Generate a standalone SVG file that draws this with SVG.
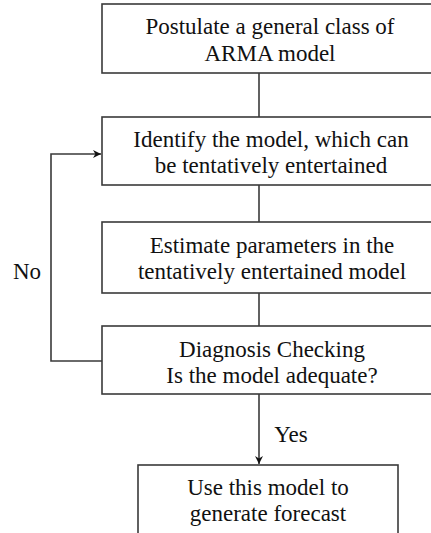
<svg xmlns="http://www.w3.org/2000/svg" width="431" height="533" viewBox="0 0 431 533">
<style>
.box{fill:#fff;stroke:#3a3a3a;stroke-width:1.6}
.ln{fill:none;stroke:#3a3a3a;stroke-width:1.6}
text{font-family:"Liberation Serif","Times New Roman",serif;font-size:23px;fill:#111;text-anchor:middle}
</style>
<defs>
<marker id="ah" viewBox="0 0 10 10" refX="10" refY="5" markerWidth="8" markerHeight="8" markerUnits="userSpaceOnUse" orient="auto">
<path d="M0,0 L10,5 L0,10 L3,5 Z" fill="#111"/>
</marker>
</defs>
<rect width="431" height="533" fill="#fff"/>
<g id="connectors">
<line class="ln" x1="259" y1="73" x2="259" y2="117"/>
<line class="ln" x1="259" y1="185" x2="259" y2="222"/>
<line class="ln" x1="259" y1="293" x2="259" y2="326"/>
<line class="ln" x1="259" y1="394" x2="259" y2="464" marker-end="url(#ah)"/>
<polyline class="ln" points="102,361 51,361 51,154 101,154" marker-end="url(#ah)"/>
<text x="27" y="279">No</text>
<text x="291" y="442">Yes</text>
</g>
<g id="n1">
<rect class="box" x="102" y="4" width="340" height="69"/>
<text x="270" y="34">Postulate a general class of</text>
<text x="270" y="61">ARMA model</text>
</g>
<g id="n2">
<rect class="box" x="102" y="117" width="340" height="68"/>
<text x="271" y="147">Identify the model, which can</text>
<text x="271" y="173">be tentatively entertained</text>
</g>
<g id="n3">
<rect class="box" x="102" y="222" width="340" height="71"/>
<text x="272" y="253">Estimate parameters in the</text>
<text x="272" y="279">tentatively entertained model</text>
</g>
<g id="n4">
<rect class="box" x="102" y="326" width="340" height="68"/>
<text x="272" y="357">Diagnosis Checking</text>
<text x="272" y="383">Is the model adequate?</text>
</g>
<g id="n5">
<rect class="box" x="138" y="465" width="260" height="80"/>
<text x="268" y="495">Use this model to</text>
<text x="268" y="521">generate forecast</text>
</g>
</svg>
